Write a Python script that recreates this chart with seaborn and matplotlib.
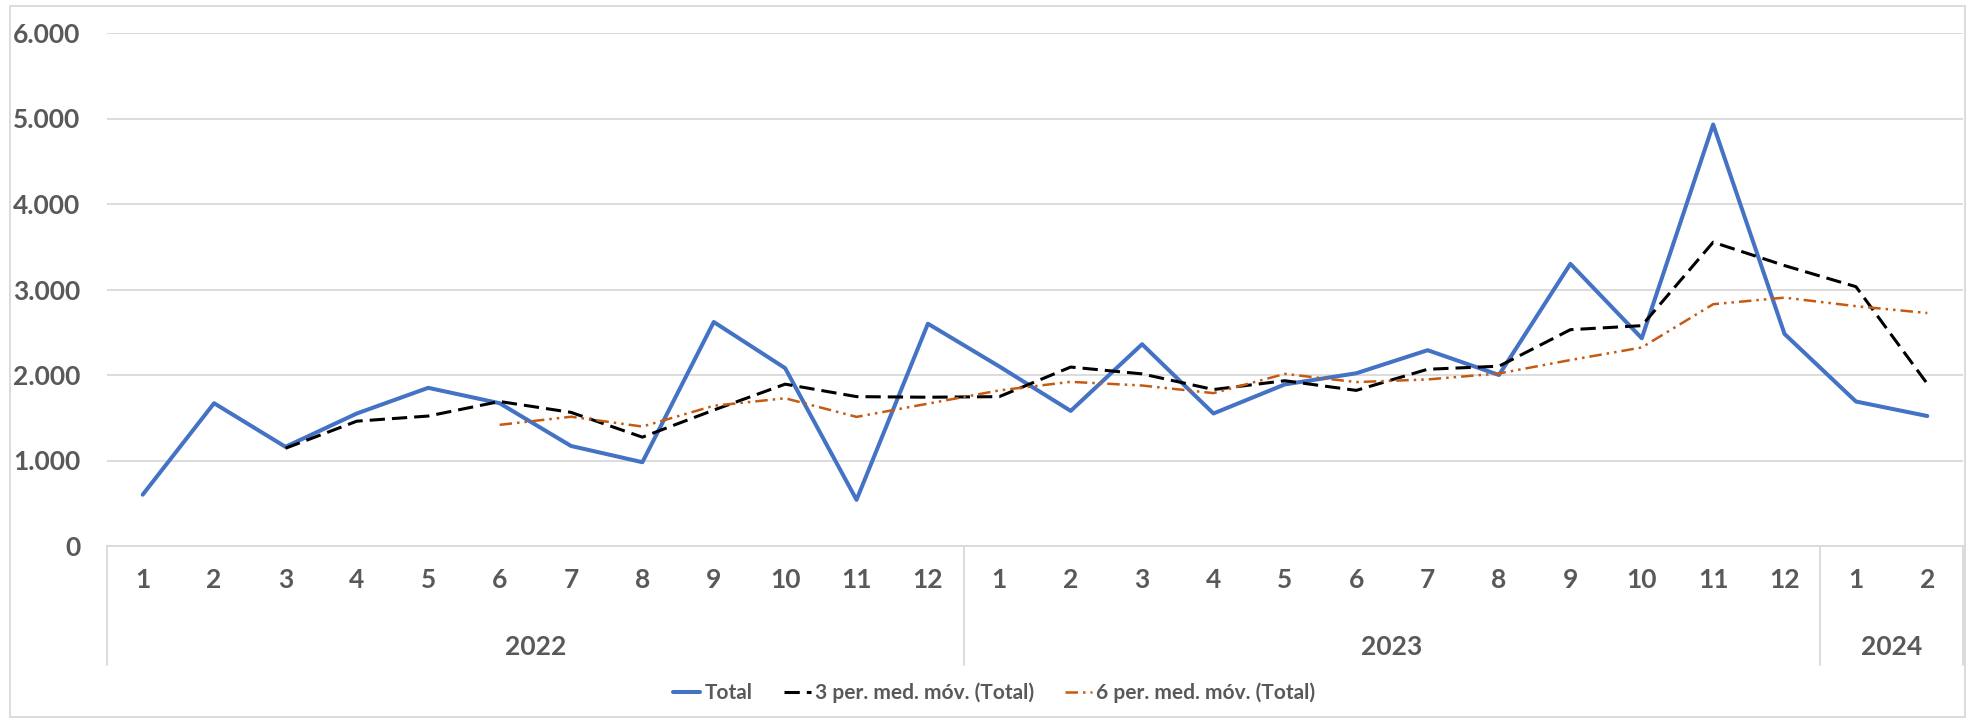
import matplotlib
matplotlib.use('Agg')
import matplotlib.pyplot as plt
import matplotlib.transforms as mtransforms
from matplotlib.patches import Rectangle
import numpy as np
import pandas as pd
import seaborn as sns

# data
months = [1, 2, 3, 4, 5, 6, 7, 8, 9, 10, 11, 12,
          1, 2, 3, 4, 5, 6, 7, 8, 9, 10, 11, 12,
          1, 2]
years = ['2022'] * 12 + ['2023'] * 12 + ['2024'] * 2
total = [600, 1670, 1160, 1550, 1850, 1670, 1170, 980, 2620, 2080, 540, 2600,
         2100, 1580, 2360, 1550, 1890, 2020, 2290, 2000, 3300, 2430, 4930, 2480,
         1690, 1520]
ma3 = [np.nan, np.nan, 1143, 1460, 1520, 1690, 1563, 1273, 1590, 1893, 1747, 1740,
       1747, 2093, 2013, 1830, 1933, 1820, 2067, 2103, 2530, 2577, 3553, 3280,
       3033, 1897]
ma6 = [np.nan, np.nan, np.nan, np.nan, np.nan, 1417, 1512, 1397, 1640, 1728, 1510, 1665,
       1820, 1920, 1877, 1788, 2013, 1917, 1948, 2018, 2175, 2322, 2828, 2905,
       2805, 2725]

df = pd.DataFrame({'pos': range(len(total)), 'total': total, 'ma3': ma3, 'ma6': ma6})

sns.set_style('white')
plt.rcParams['font.family'] = ['Liberation Sans Narrow', 'Lato', 'DejaVu Sans']
plt.rcParams['font.weight'] = 'bold'
txt = '#595959'
grid = '#d9d9d9'

fig = plt.figure(figsize=(19.69, 7.19), dpi=100)
ax = fig.add_axes([107 / 1969, 1 - 546 / 719, (1963 - 107) / 1969, (546 - 33) / 719])

sns.lineplot(data=df, x='pos', y='total', color='#4472C4', lw=2.9, ax=ax, label='Total')
sns.lineplot(data=df.dropna(subset=['ma3']), x='pos', y='ma3', color='black', lw=2.2,
             ls=(0, (5, 2.3)), ax=ax, label='3 per. med. móv. (Total)')
sns.lineplot(data=df.dropna(subset=['ma6']), x='pos', y='ma6', color='#C55A11', lw=1.8,
             ls=(0, (5, 2, 1, 2, 1, 2)), ax=ax, label='6 per. med. móv. (Total)')

ax.set_xlim(-0.5, len(total) - 0.5)
ax.set_ylim(0, 6000)
ax.set_yticks(range(0, 6001, 1000))
ax.set_yticklabels([f'{v:,}'.replace(',', '.') for v in range(0, 6001, 1000)])
ax.set_xticks(range(len(total)))
ax.set_xticklabels([str(m) for m in months])
ax.tick_params(axis='both', length=0, labelsize=19, labelcolor=txt)
ax.tick_params(axis='y', pad=19)
ax.tick_params(axis='x', pad=16)
ax.set_xlabel('')
ax.set_ylabel('')
ax.yaxis.grid(True, color=grid, lw=1.3)
for s in ['top', 'right', 'left']:
    ax.spines[s].set_visible(False)
ax.spines['bottom'].set_color(grid)
ax.spines['bottom'].set_linewidth(1.3)

# year group labels and separators
trans = mtransforms.blended_transform_factory(ax.transData, ax.transAxes)
depth = -(665 - 546) / (546 - 33)
for xb in [-0.5, 11.5, 23.5, len(total) - 0.5]:
    ax.plot([xb, xb], [0, depth], transform=trans, color=grid, lw=1.3, clip_on=False)
for yr in ['2022', '2023', '2024']:
    idx = [i for i, y in enumerate(years) if y == yr]
    ax.text((idx[0] + idx[-1]) / 2, -(647 - 546) / (546 - 33), yr, transform=trans,
            ha='center', va='center', fontsize=19, color=txt, fontweight='bold')

handles, labels = ax.get_legend_handles_labels()
ax.get_legend().remove()
leg = fig.legend(handles, labels, loc='center', bbox_to_anchor=(0.505, 1 - 693 / 719), ncol=3,
                 frameon=False, fontsize=15, handlelength=1.3, handletextpad=0.2,
                 columnspacing=1.5)
for t in leg.get_texts():
    t.set_color(txt)

fig.patches.append(Rectangle((10 / 1969, 2 / 719), 1955 / 1969, 711 / 719, transform=fig.transFigure,
                             fill=False, edgecolor=grid, lw=1.3))

fig.savefig('out.png', dpi=100)
